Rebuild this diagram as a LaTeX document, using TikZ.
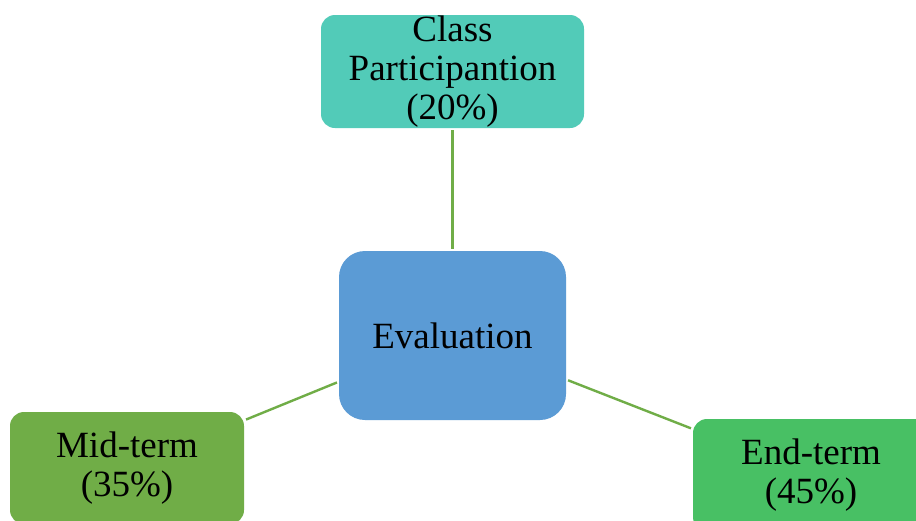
\documentclass[tikz,border=0pt]{standalone}
\usepackage{fontspec}
\setmainfont{Liberation Serif}
\definecolor{teal1}{HTML}{52CBB8}
\definecolor{blue1}{HTML}{5B9BD5}
\definecolor{green1}{HTML}{70AD47}
\definecolor{green2}{HTML}{48C064}
\definecolor{linkc}{HTML}{70AD47}
\tikzset{
  box/.style={draw=none, align=center, inner sep=0pt,
    font=\fontsize{37}{39}\selectfont, text=black},
  link/.style={draw=linkc, line width=2.4pt, shorten <=2pt, shorten >=2pt}
}
\begin{document}
\begin{tikzpicture}[x=1pt,y=-1pt]
  \useasboundingbox (0,0) rectangle (916,520);
  \clip (0,0) rectangle (916,520);
  \fill[white] (0,0) rectangle (916,520);
  \node[box, fill=teal1, rounded corners=14pt, minimum width=263pt, minimum height=113pt]
    (part) at (452.5,71.5) {Class\\Participantion\\(20\%)};
  \node[box, fill=blue1, rounded corners=26pt, minimum width=227pt, minimum height=169pt]
    (eval) at (452.5,335.5) {Evaluation};
  \node[box, fill=green1, rounded corners=14pt, minimum width=234pt, minimum height=112pt]
    (mid) at (127,468) {Mid-term\\(35\%)};
  \node[box, fill=green2, rounded corners=14pt, minimum width=236pt, minimum height=112pt]
    (end) at (811,475) {End-term\\(45\%)};
  \draw[link] (part) -- (eval);
  \draw[link] (mid) -- (eval);
  \draw[link] (end) -- (eval);
\end{tikzpicture}
\end{document}
